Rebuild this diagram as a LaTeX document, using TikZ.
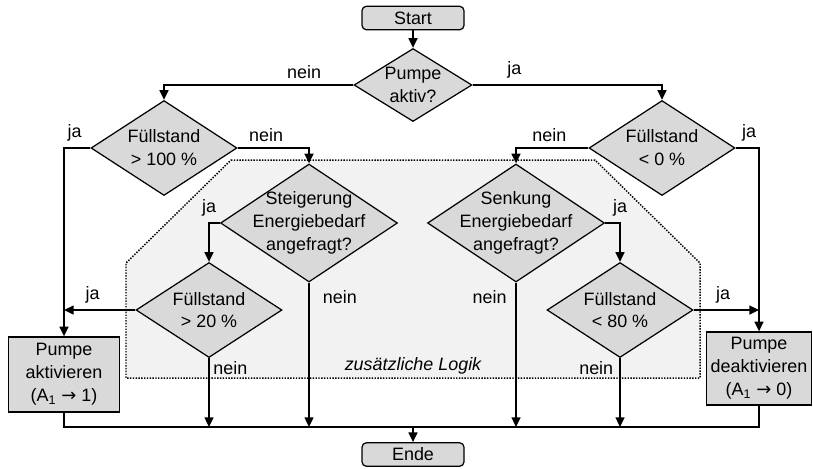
\documentclass[tikz,border=0pt]{standalone}
\usepackage{fontspec}
\setmainfont{Liberation Sans}
\newfontfamily\pfeilfont{DejaVu Sans}
\usetikzlibrary{shapes.geometric,arrows.meta}
\definecolor{fillgray}{HTML}{D9D9D9}
\definecolor{logikgray}{HTML}{F2F2F2}
\newcommand{\setzt}{{\pfeilfont →}}
\begin{document}
\begin{tikzpicture}[
    x=0.02cm,y=-0.02cm,
    font=\fontsize{10.2}{13}\selectfont,
    frage/.style={draw,diamond,fill=fillgray,line width=0.7pt,inner sep=0pt,
    minimum width=2.92cm,minimum height=1.9cm,
    label={[align=center]center:#1}
    },
    grossfrage/.style={frage={#1},minimum width=3.54cm,minimum height=2.36cm},
    aktion/.style={draw,rectangle,fill=fillgray,line width=0.7pt,align=center,inner sep=1pt},
    terminal/.style={draw,rectangle,rounded corners=2.5pt,fill=fillgray,line width=0.7pt,
    minimum width=2.04cm,minimum height=0.47cm,inner sep=0pt},
    amark/.style={
    ->,
    >={Triangle[length=5.5pt,width=5pt]},
    line width=1.1pt
    },
    line/.style={line width=1.1pt}
]
\useasboundingbox (0,0) rectangle (813,468);

%Draw the extra logic area
\draw[dash pattern=on 0.8pt off 0.8pt,line width=0.85pt,fill=logikgray]
  (231,160) -- (595,160) -- (700,263) -- (700,378) -- (126,378) -- (126,263) -- cycle;
\node (logik) at (413,366) {\itshape zusätzliche Logik};

%Draw the blocks
\node[terminal] (start) at (413,18) {Start};
\node[frage={Pumpe\\aktiv?},minimum width=2.36cm,minimum height=1.46cm] (aktiv) at (413,85) {};
\node[frage={Füllstand\\> 100 \%}] (fvoll) at (164,148) {};
\node[frage={Füllstand\\< 0 \%}] (fleer) at (662,148) {};
\node[grossfrage={Steigerung\\Energiebedarf\\angefragt?}] (steig) at (309,223) {};
\node[grossfrage={Senkung\\Energiebedarf\\angefragt?}] (senk) at (516,223) {};
\node[frage={Füllstand\\> 20 \%}] (fmin) at (209,310) {};
\node[frage={Füllstand\\< 80 \%}] (fmax) at (620,310) {};
\node[aktion,minimum width=2.22cm,minimum height=1.5cm] (an) at (64,374.5) {Pumpe\\aktivieren\\(A\textsubscript{1} \setzt{} 1)};
\node[aktion,minimum width=2.1cm,minimum height=1.46cm] (aus) at (759,368.5) {Pumpe\\deaktivieren\\(A\textsubscript{1} \setzt{} 0)};
\node[terminal] (ende) at (413,454.5) {Ende};
\coordinate (sammel) at (413,427);

%Draw the connections
\draw[amark] (start) -- (aktiv);
\draw[amark] (aktiv.west) -| node[pos=0.13,above]{nein} (fvoll.north);
\draw[amark] (aktiv.east) -| node[pos=0.11,above]{ja} (fleer.north);
\draw[amark] (fvoll.west) -| node[pos=0.3,above]{ja} (an.north);
\draw[amark] (fvoll.east) -| node[pos=0.2,above]{nein} (steig.north);
\draw[amark] (fleer.west) -| node[pos=0.27,above]{nein} (senk.north);
\draw[amark] (fleer.east) -| node[pos=0.29,above]{ja} (aus.north);
\draw[amark] (steig.west) -| node[pos=0.5,above]{ja} (fmin.north);
\draw[amark] (senk.east) -| node[pos=0.5,above]{ja} (fmax.north);
\draw[amark] (fmin.west) -- node[pos=0.6,above]{ja} (an.north |- fmin.west);
\draw[amark] (fmax.east) -- node[pos=0.45,above]{ja} (aus.north |- fmax.east);
\draw[amark] (steig.south) -- node[pos=0.1,right=4pt]{nein} (steig.south |- sammel);
\draw[amark] (senk.south) -- node[pos=0.1,left=1.5pt]{nein} (senk.south |- sammel);
\draw[amark] (fmin.south) -- node[pos=0.14,right,inner sep=2pt]{nein} (fmin.south |- sammel);
\draw[amark] (fmax.south) -- node[pos=0.14,left]{nein} (fmax.south |- sammel);
\draw[line] (an.south) |- (sammel) -| (aus.south);
\draw[amark] (sammel) -- (ende);

\end{tikzpicture}
\end{document}
